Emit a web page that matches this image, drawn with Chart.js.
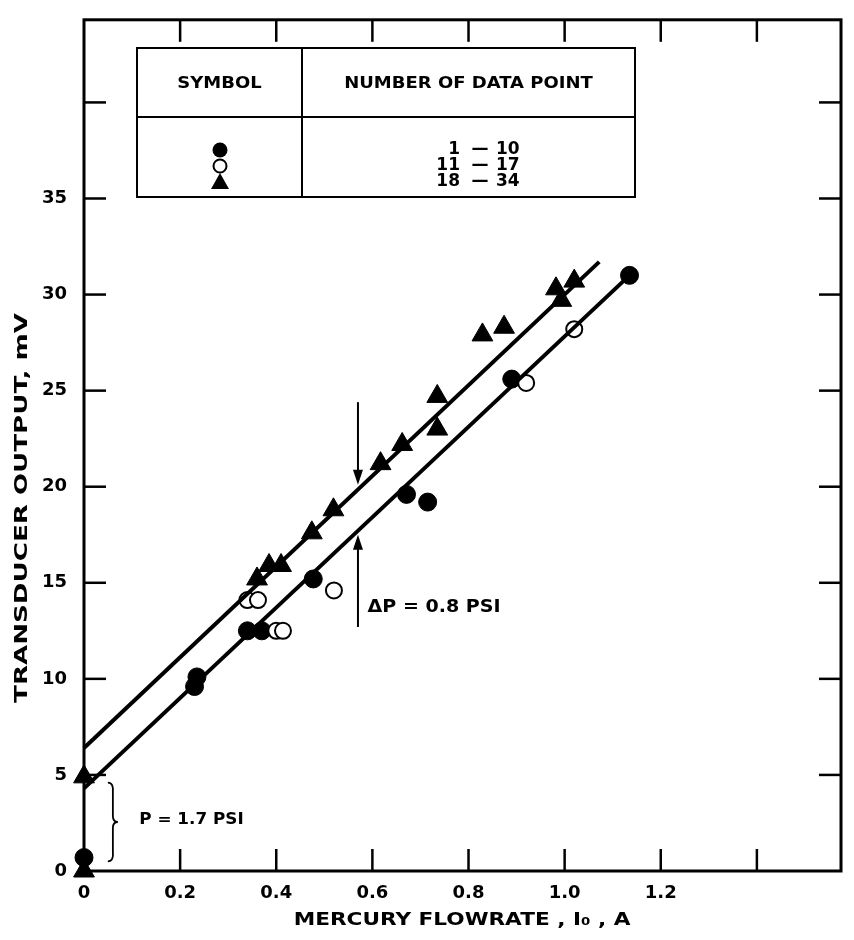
<!DOCTYPE html>
<html><head><meta charset="utf-8">
<script src="https://cdn.jsdelivr.net/npm/chart.js@4.4.1/dist/chart.umd.min.js"></script>
<style>html,body{margin:0;padding:0;background:#fff;}#wrap{width:854px;height:940px;}</style>
</head><body><div id="wrap"><canvas id="c" width="854" height="940"></canvas></div>
<script>
// ---- data ----
const filledX = [0, 0.23, 0.235, 0.34, 0.37, 0.477, 0.671, 0.715, 0.89, 1.135];
const filledY = [0.7, 9.6, 10.1, 12.5, 12.5, 15.2, 19.6, 19.2, 25.6, 31.0];
const openX = [0.34, 0.362, 0.40, 0.414, 0.52, 0.92, 1.02];
const openY = [14.1, 14.1, 12.5, 12.5, 14.6, 25.4, 28.2];
const triX = [0, 0, 0.36, 0.385, 0.41, 0.474, 0.519, 0.617, 0.662, 0.735, 0.735, 0.829, 0.874, 0.982, 0.993, 1.02];
const triY = [0, 4.9, 15.2, 15.9, 15.9, 17.6, 18.8, 21.2, 22.2, 24.7, 23.0, 27.9, 28.3, 30.3, 29.7, 30.7];
const upperLineX = [0, 1.072];
const upperLineY = [6.4, 31.7];
const lowerLineX = [0, 1.135];
const lowerLineY = [4.3, 31.0];
const xTickValues = [0, 0.2, 0.4, 0.6, 0.8, 1.0, 1.2, 1.4];
const xTickLabels = ['0', '0.2', '0.4', '0.6', '0.8', '1.0', '1.2', ''];
const yTickValues = [0, 5, 10, 15, 20, 25, 30, 35, 40];
const yTickLabels = ['0', '5', '10', '15', '20', '25', '30', '35', ''];
const xTitle = 'MERCURY FLOWRATE , I\u2080 , A';
const yTitle = 'TRANSDUCER OUTPUT, mV';
const legendHeaders = ['SYMBOL', 'NUMBER OF DATA POINT'];
const legendStyles = ['filled', 'open', 'triangle'];
const legendFrom = ['1', '11', '18'];
const legendTo = ['10', '17', '34'];
const arrowX = 0.57;
const downArrowY = [24.4, 20.1];
const upArrowY = [12.7, 17.5];
const noteDP = { text: '\u0394P = 0.8 PSI', x: 0.59, y: 13.7 };
const noteP = { text: 'P = 1.7 PSI', x: 0.115, y: 2.66 };
const braceX = 0.058;
const braceY = [4.6, 0.5];

const FONT = 'DejaVu Sans';
const pts = (xs, ys) => xs.map((x, i) => ({ x, y: ys[i] }));

function line(ctx, x1, y1, x2, y2) { ctx.beginPath(); ctx.moveTo(x1, y1); ctx.lineTo(x2, y2); ctx.stroke(); }
function arrowHead(ctx, x, y, dir) { // dir: 1 = pointing down, -1 = pointing up
  ctx.beginPath(); ctx.moveTo(x, y); ctx.lineTo(x - 5, y - dir * 15); ctx.lineTo(x + 5, y - dir * 15); ctx.closePath(); ctx.fill();
}
// wide ("extended") bold text, like the original lettering
function wideText(ctx, text, x, y, size, stretch, align, rot) {
  ctx.save();
  ctx.translate(x, y);
  if (rot) ctx.rotate(rot);
  ctx.scale(stretch, 1);
  ctx.font = 'bold ' + size + 'px ' + FONT;
  ctx.textAlign = align; ctx.textBaseline = 'middle';
  ctx.fillText(text, 0, 0);
  ctx.restore();
}

const decor = {
  id: 'decor',
  beforeDatasetsDraw(chart) {
    const { ctx, chartArea: a, scales: { x, y } } = chart;
    ctx.save();
    ctx.strokeStyle = '#000'; ctx.fillStyle = '#000';
    ctx.lineWidth = 3;
    ctx.strokeRect(a.left, a.top, a.right - a.left, a.bottom - a.top);
    const TL = 22;
    ctx.lineWidth = 2.5;
    xTickValues.forEach(v => { if (v === 0) return; const p = x.getPixelForValue(v);
      line(ctx, p, a.bottom, p, a.bottom - TL); line(ctx, p, a.top, p, a.top + TL); });
    yTickValues.forEach(v => { if (v === 0) return; const p = y.getPixelForValue(v);
      line(ctx, a.left, p, a.left + TL, p); line(ctx, a.right, p, a.right - TL, p); });
    // arrows
    ctx.lineWidth = 2;
    const ax = x.getPixelForValue(arrowX);
    const d0 = y.getPixelForValue(downArrowY[0]), d1 = y.getPixelForValue(downArrowY[1]);
    line(ctx, ax, d0, ax, d1 - 8); arrowHead(ctx, ax, d1, 1);
    const u0 = y.getPixelForValue(upArrowY[0]), u1 = y.getPixelForValue(upArrowY[1]);
    line(ctx, ax, u0, ax, u1 + 8); arrowHead(ctx, ax, u1, -1);
    // notes
    wideText(ctx, noteDP.text, x.getPixelForValue(noteDP.x), y.getPixelForValue(noteDP.y), 17, 1.12, 'left', 0);
    wideText(ctx, noteP.text, x.getPixelForValue(noteP.x), y.getPixelForValue(noteP.y), 16, 1.05, 'left', 0);
    // brace
    const bx = x.getPixelForValue(braceX), b0 = y.getPixelForValue(braceY[0]), b1 = y.getPixelForValue(braceY[1]);
    const bm = (b0 + b1) / 2;
    ctx.lineWidth = 1.8;
    ctx.beginPath();
    ctx.moveTo(bx - 4, b0);
    ctx.quadraticCurveTo(bx + 2, b0, bx + 1, b0 + 10);
    ctx.lineTo(bx + 1, bm - 6);
    ctx.quadraticCurveTo(bx + 1, bm, bx + 6, bm);
    ctx.quadraticCurveTo(bx + 1, bm, bx + 1, bm + 6);
    ctx.lineTo(bx + 1, b1 - 10);
    ctx.quadraticCurveTo(bx + 2, b1, bx - 4, b1);
    ctx.stroke();
    // axis titles
    wideText(ctx, yTitle, 22, 508, 18, 1.45, 'center', -Math.PI / 2);
    wideText(ctx, xTitle, 462, 920, 18, 1.2, 'center', 0);
    // legend table
    const L = 137, R = 635, T = 48, B = 197, MID = 117, COL = 302;
    ctx.lineWidth = 2;
    ctx.fillStyle = '#fff'; ctx.fillRect(L, T, R - L, B - T); ctx.fillStyle = '#000';
    ctx.strokeRect(L, T, R - L, B - T);
    line(ctx, L, MID, R, MID); line(ctx, COL, T, COL, B);
    wideText(ctx, legendHeaders[0], (L + COL) / 2, 84, 15, 1.2, 'center', 0);
    wideText(ctx, legendHeaders[1], (COL + R) / 2, 84, 15, 1.2, 'center', 0);
    const rowY = [150, 166, 182];
    const symX = 220;
    legendStyles.forEach((s, i) => {
      const ry = rowY[i];
      ctx.beginPath();
      if (s === 'filled') { ctx.arc(symX, ry, 7.5, 0, Math.PI * 2); ctx.fill(); }
      else if (s === 'open') { ctx.lineWidth = 2; ctx.arc(symX, ry, 6.5, 0, Math.PI * 2); ctx.stroke(); }
      else { ctx.moveTo(symX, ry - 9); ctx.lineTo(symX + 9, ry + 7); ctx.lineTo(symX - 9, ry + 7); ctx.closePath(); ctx.fill(); }
      ctx.font = 'bold 17px ' + FONT; ctx.textBaseline = 'middle';
      ctx.textAlign = 'right'; ctx.fillText(legendFrom[i], 460, ry);
      ctx.textAlign = 'center'; ctx.fillText('\u2014', 480, ry);
      ctx.textAlign = 'left'; ctx.fillText(legendTo[i], 496, ry);
    });
    ctx.restore();
  }
};

Chart.defaults.font.family = FONT;
new Chart(document.getElementById('c'), {
  type: 'scatter',
  data: {
    datasets: [
      { data: pts(upperLineX, upperLineY), showLine: true, pointRadius: 0, borderColor: '#000', borderWidth: 4, clip: false },
      { data: pts(lowerLineX, lowerLineY), showLine: true, pointRadius: 0, borderColor: '#000', borderWidth: 4, clip: false },
      { data: pts(triX, triY), pointStyle: 'triangle', pointRadius: 12, backgroundColor: '#000', borderColor: '#000', borderWidth: 1, clip: false },
      { data: pts(openX, openY), pointStyle: 'circle', pointRadius: 8, backgroundColor: '#fff', borderColor: '#000', borderWidth: 2, clip: false },
      { data: pts(filledX, filledY), pointStyle: 'circle', pointRadius: 9, backgroundColor: '#000', borderColor: '#000', borderWidth: 1, clip: false }
    ]
  },
  options: {
    responsive: false, animation: false, devicePixelRatio: 1,
    layout: { padding: { top: 13, right: 2, left: 0, bottom: 0 } },
    plugins: { legend: { display: false }, tooltip: { enabled: false } },
    scales: {
      x: {
        type: 'linear', position: 'bottom', min: 0, max: 1.575,
        afterFit: s => { s.height = 69; },
        afterBuildTicks: s => { s.ticks = xTickValues.map(v => ({ value: v })); },
        ticks: { callback: (v, i) => xTickLabels[i], color: '#000', padding: 4, maxRotation: 0, autoSkip: false,
          font: { size: 18, weight: 'bold' } },
        grid: { display: false }, border: { display: false },
        title: { display: false, text: xTitle }
      },
      y: {
        type: 'linear', position: 'left', min: 0, max: 44.3,
        afterFit: s => { s.width = 84; },
        afterBuildTicks: s => { s.ticks = yTickValues.map(v => ({ value: v })); },
        ticks: { callback: (v, i) => yTickLabels[i], color: '#000', padding: 9, autoSkip: false,
          font: { size: 18, weight: 'bold' } },
        grid: { display: false }, border: { display: false },
        title: { display: false, text: yTitle }
      }
    }
  },
  plugins: [decor]
});
</script>
</body></html>
